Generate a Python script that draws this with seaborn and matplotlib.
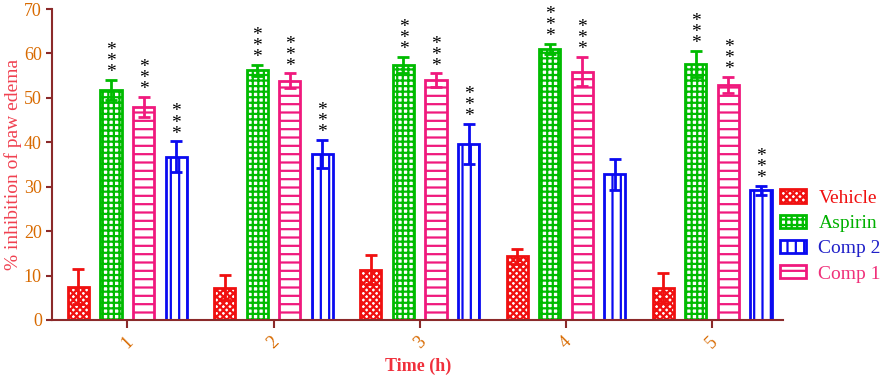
import numpy as np
import pandas as pd
import matplotlib
matplotlib.use("Agg")
import matplotlib.pyplot as plt
import seaborn as sns
from matplotlib.patches import Patch

# data
times = ["1", "2", "3", "4", "5"]
groups = ["Vehicle", "Aspirin", "Comp 1", "Comp 2"]
vehicle = [7.5, 7.3, 11.3, 14.3, 7.2]
aspirin = [51.8, 56.2, 57.5, 61.0, 57.6]
comp1 = [48.0, 53.9, 54.0, 55.9, 53.0]
comp2 = [36.7, 37.4, 39.6, 32.8, 29.2]
vehicle_err = [4.0, 2.8, 3.3, 1.7, 3.4]
aspirin_err = [2.2, 1.2, 1.8, 1.2, 3.0]
comp1_err = [2.2, 1.6, 1.5, 3.3, 1.8]
comp2_err = [3.5, 3.1, 4.5, 3.5, 1.0]
# significance marks (***) per group / time
stars = {
    "Vehicle": [False] * 5,
    "Aspirin": [True] * 5,
    "Comp 1": [True] * 5,
    "Comp 2": [True, True, True, False, True],
}

colors = {"Vehicle": "#f01010", "Aspirin": "#00bb00", "Comp 1": "#f0197d", "Comp 2": "#0a0af0"}
hatches = {"Vehicle": "xxxxx", "Aspirin": "+++", "Comp 1": "--", "Comp 2": "||"}
text_colors = {"Vehicle": "#f01010", "Aspirin": "#00b000", "Comp 1": "#f0307a", "Comp 2": "#2020c8"}

vals = {"Vehicle": vehicle, "Aspirin": aspirin, "Comp 1": comp1, "Comp 2": comp2}
errs = {"Vehicle": vehicle_err, "Aspirin": aspirin_err, "Comp 1": comp1_err, "Comp 2": comp2_err}

rows = []
for g in groups:
    for t, v in zip(times, vals[g]):
        rows.append({"time": t, "group": g, "value": v})
df = pd.DataFrame(rows)

sns.set_style("ticks")
plt.rcParams["font.family"] = ["Liberation Serif", "DejaVu Serif"]
plt.rcParams["hatch.linewidth"] = 1.6

fig = plt.figure(figsize=(8.86, 3.76), dpi=100)
ax = fig.add_axes([0.059, 0.149, 0.825, 0.827])

sns.barplot(data=df, x="time", y="value", hue="group", hue_order=groups,
            order=times, palette=colors, fill=False, width=0.89, gap=0.35,
            linewidth=2, errorbar=None, legend=False, ax=ax)

for cont, g in zip(ax.containers, groups):
    xs = []
    hs = []
    for bar in cont:
        bar.set_hatch(hatches[g])
        bar.set_facecolor("white")
        bar.set_edgecolor(colors[g])
        bar.set_fill(True)
        xs.append(bar.get_x() + bar.get_width() / 2)
        hs.append(bar.get_height())
    ax.errorbar(xs, hs, yerr=errs[g], fmt="none", ecolor=colors[g],
                elinewidth=2, capsize=4.5, capthick=2, zorder=3)
    for x, h, e, s in zip(xs, hs, errs[g], stars[g]):
        if s:
            ax.annotate("*\n*\n*", (x, h + e), xytext=(0, -1),
                        textcoords="offset points", ha="center", va="bottom",
                        fontsize=14, linespacing=0.55, color="black")

ax.set_ylim(0, 70)
ax.set_xlim(-0.513, 4.486)
ax.set_yticks(range(0, 71, 10))

spine_c = "#8b2a2a"
sns.despine(ax=ax)
for sp in ["left", "bottom"]:
    ax.spines[sp].set_color(spine_c)
    ax.spines[sp].set_linewidth(1.5)
ax.tick_params(axis="both", colors=spine_c, width=1.5, labelsize=13, labelcolor="#d86a00")
ax.tick_params(axis="y", length=4)
ax.tick_params(axis="x", length=6)
plt.setp(ax.get_xticklabels(), rotation=45, ha="center")

ax.set_xlabel("Time (h)", fontsize=13, fontweight="bold", color="#f0303c", labelpad=4)
ax.set_ylabel("% inhibition of paw edema", fontsize=14, color="#f04050")
ax.yaxis.set_label_coords(-0.041, 0.5)

leg_order = ["Vehicle", "Aspirin", "Comp 2", "Comp 1"]
handles = [Patch(facecolor="white", edgecolor=colors[g], hatch=hatches[g], linewidth=2)
           for g in leg_order]
leg = ax.legend(handles, leg_order, loc="center left", bbox_to_anchor=(0.996, 0.27),
                frameon=False, fontsize=14, handlelength=1.34, handleheight=0.67,
                labelspacing=0.4, handletextpad=0.62, borderpad=0, borderaxespad=0,
                labelcolor=[text_colors[g] for g in leg_order])

fig.savefig("out.png", dpi=100)
